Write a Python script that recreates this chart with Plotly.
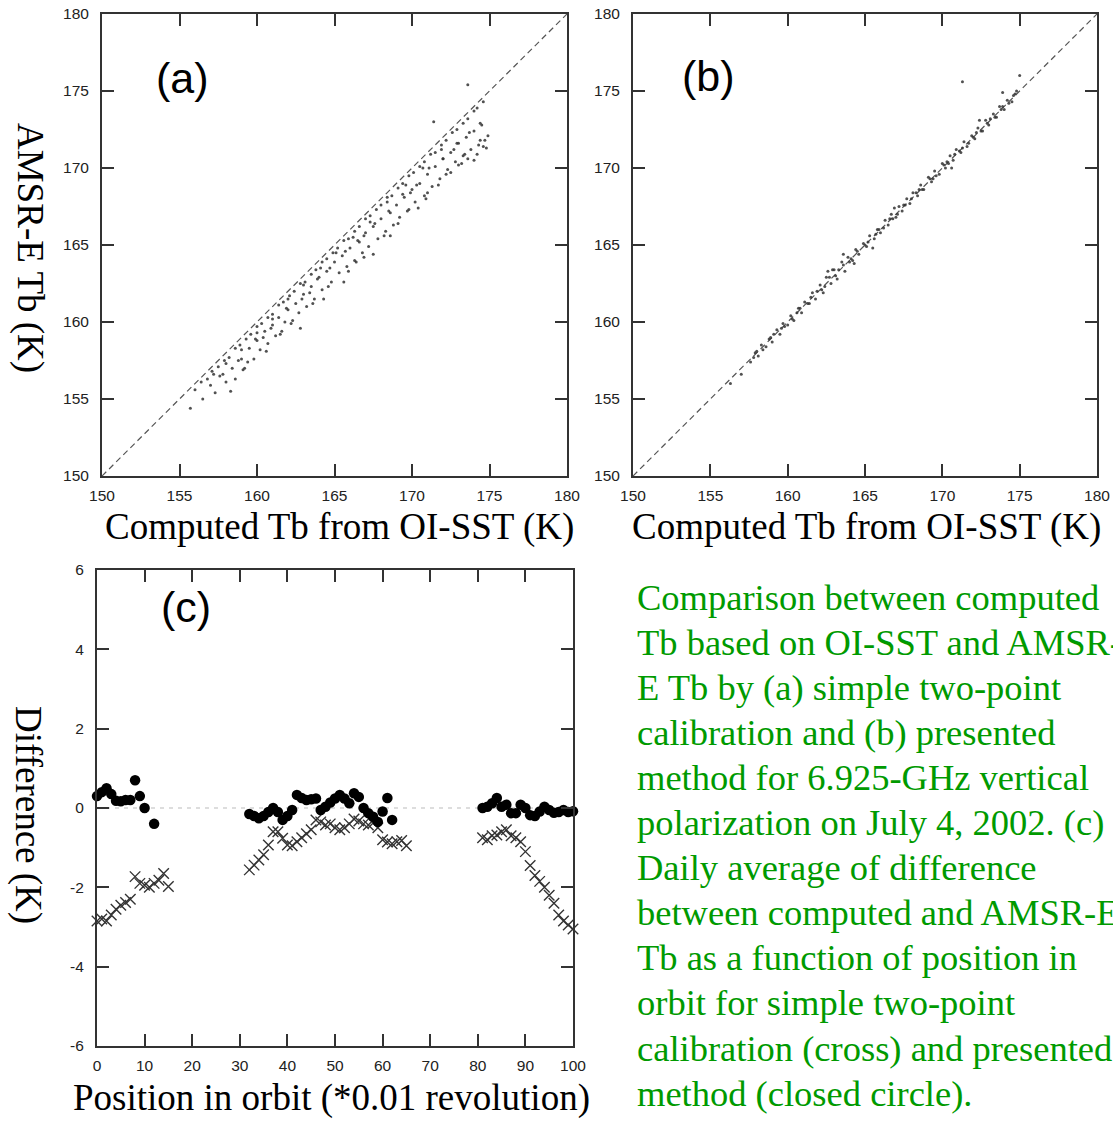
import plotly.graph_objects as go

W, H = 1113, 1121

# ---------------- data ----------------
# panel (a): computed Tb vs AMSR-E Tb, simple two-point calibration
a_x = [156.0,156.8,157.5,158.2,158.9,159.6,160.3,161.0,161.7,162.4,163.1,163.8,164.5,165.2,165.9,166.6,
       167.3,168.0,168.7,169.4,170.1,170.8,171.5,172.2,172.9,173.6,174.2,174.6,
       156.5,157.0,157.3,157.8,158.0,158.4,158.6,159.0,159.2,159.5,159.8,160.0,160.2,160.5,160.7,161.0,
       161.2,161.4,161.8,162.0,162.2,162.5,162.7,163.0,163.2,163.5,163.7,164.0,164.2,164.5,164.8,165.0,
       165.3,165.5,165.8,166.0,166.3,166.5,166.8,167.0,167.2,167.5,167.8,168.0,168.3,168.5,168.8,169.0,
       169.2,169.5,169.8,170.0,170.2,170.5,170.8,171.0,171.3,171.5,171.8,172.0,172.3,172.5,172.8,173.0,
       173.3,173.5,173.8,174.0,174.3,174.5,174.7,174.2,173.6,173.0,172.5,174.8,171.9,170.7,169.6,168.4,
       167.3,166.2,165.1,164.1,163.0,162.0,161.0,160.0,159.0,158.0,157.2,171.4,173.6,155.7,158.3,162.8,
       165.6,168.6,170.4,160.6,164.3,167.5,174.0,174.4,169.1,171.7,166.9,163.6,161.5,159.4,
       156.4,157.1,157.9,158.6,159.3,160.0,160.7,161.4,162.1,162.8,163.5,164.2,164.9,165.6,166.3,167.0,
       167.7,168.4,169.1,169.8,170.5,171.2,171.9,172.6,173.3,174.0,
       157.6,158.8,159.9,160.9,161.9,162.9,163.9,164.7,165.7,166.6,167.6,168.6,169.4,170.3,171.1,172.0,
       172.9,173.7,174.4,160.4,163.4,166.9,169.9,172.7,
       159.1,161.6,164.6,166.4,168.2,169.7,171.0,172.2,173.4,174.6,162.3,165.9,170.9,173.2,174.9]
a_y = [155.6,156.3,157.1,157.7,158.5,159.2,159.9,160.5,161.3,162.0,162.6,163.4,164.1,164.8,165.4,166.2,
       166.9,167.6,168.2,169.0,169.7,170.4,171.0,171.8,172.5,173.2,173.9,174.3,
       155.0,155.9,155.4,156.6,156.1,157.0,156.3,157.6,157.0,158.3,157.6,158.8,158.2,159.4,158.6,159.8,
       159.1,160.3,160.0,160.8,159.9,161.2,160.6,161.8,161.0,162.3,161.5,162.9,162.1,163.3,162.6,163.9,
       163.2,164.3,163.6,164.8,164.0,165.3,164.5,165.8,164.9,166.2,165.4,166.7,165.9,167.2,166.3,167.6,
       166.8,168.1,167.3,168.6,167.8,169.0,168.2,169.6,168.8,170.1,169.3,170.6,169.9,171.0,170.4,171.6,
       170.8,172.0,171.2,172.4,171.5,172.8,171.8,170.9,170.6,170.2,169.7,171.3,171.2,170.0,168.9,167.8,
       166.5,165.5,164.5,163.5,162.4,161.5,160.2,159.3,158.2,157.3,156.6,173.0,175.4,154.4,155.5,159.6,
       162.6,165.6,167.4,158.1,161.5,164.4,170.5,171.8,166.4,168.9,164.2,161.2,159.2,157.4,
       156.1,156.8,157.5,158.3,158.9,159.7,160.3,161.1,161.7,162.5,163.1,163.9,164.5,165.3,165.9,166.7,
       167.3,168.1,168.7,169.5,170.1,170.9,171.5,172.3,172.9,173.7,
       156.5,157.5,158.9,159.6,160.9,161.5,162.8,163.5,164.6,165.2,166.4,167.1,168.3,168.9,170.0,170.6,
       171.6,172.3,172.9,159.0,161.9,165.6,168.4,171.2,
       156.9,159.4,162.3,163.9,165.6,167.2,168.4,169.6,170.9,171.4,160.1,163.3,168.0,170.3,172.1]

# panel (b): computed Tb vs AMSR-E Tb, presented method
b_x = [157.6,157.9,158.1,158.3,158.6,158.8,159.0,159.3,159.5,159.7,160.0,160.2,160.4,160.7,160.9,161.1,
       161.4,161.6,161.8,162.1,162.3,162.5,162.8,163.0,163.2,163.5,163.7,163.9,164.2,164.4,164.6,164.9,
       165.1,165.3,165.6,165.8,166.0,166.3,166.5,166.7,167.0,167.2,167.4,167.7,167.9,168.1,168.4,168.6,
       168.8,169.1,169.3,169.5,169.8,170.0,170.2,170.5,170.7,170.9,171.2,171.4,171.6,171.9,172.1,172.3,
       172.6,172.8,173.0,173.3,173.5,173.7,174.0,174.2,174.5,174.8,
       158.0,158.9,159.8,160.6,161.5,162.4,163.3,164.1,165.0,165.9,166.8,167.6,168.5,169.4,170.3,171.1,
       172.0,172.9,173.8,174.6,
       171.3,175.0,157.0,156.3,162.6,163.6,165.5,170.6,172.4,173.9,
       157.8,158.4,159.1,159.6,160.3,160.8,161.3,161.9,162.2,162.7,163.1,163.6,164.0,164.5,165.2,165.7,
       166.2,166.6,167.1,167.5,168.0,168.3,168.7,169.2,169.6,170.1,170.4,170.8,171.3,171.7,172.2,172.5,
       173.1,173.4,173.9,174.3,174.7,162.9,164.3,166.9]
b_y = [157.4,158.0,157.8,158.5,158.4,158.9,158.7,159.5,159.2,159.9,159.8,160.4,160.1,160.9,160.6,161.3,
       161.2,161.9,161.5,162.4,161.9,162.9,162.5,163.4,162.8,163.9,163.3,164.2,164.0,164.7,164.4,165.1,
       164.9,165.6,165.4,166.0,165.8,166.6,166.3,167.0,166.8,167.5,167.2,168.0,167.7,168.4,168.2,168.9,
       168.6,169.4,169.1,169.8,169.6,170.3,170.0,170.8,170.5,171.2,171.0,171.7,171.4,172.1,171.9,172.6,
       172.4,173.1,172.8,173.5,173.3,174.0,173.8,174.4,174.3,175.0,
       158.1,159.0,159.7,160.6,161.6,162.3,163.4,164.1,165.0,166.0,166.7,167.6,168.6,169.3,170.4,171.1,
       172.0,172.9,173.8,174.7,
       175.6,176.0,156.6,156.0,163.3,164.4,164.8,170.0,173.1,174.9,
       157.7,158.2,159.2,159.6,160.2,160.9,161.2,162.0,162.1,162.9,163.0,163.7,163.9,164.6,165.2,165.7,
       166.1,166.7,167.0,167.6,168.0,168.4,168.6,169.3,169.5,170.2,170.3,170.9,171.3,171.6,172.3,172.4,
       173.2,173.3,174.0,174.2,174.8,163.4,163.8,167.4]

# panel (c): daily average of difference vs position in orbit
circle_pos = [0,1,2,3,4,5,6,7,8,9,10,12,
              32,33,34,35,36,37,38,39,40,41,42,43,44,45,46,47,48,49,50,51,52,53,54,55,56,57,58,59,60,61,62,
              81,82,83,84,85,86,87,88,89,90,91,92,93,94,95,96,97,98,99,100]
circle_diff = [0.30,0.40,0.50,0.35,0.18,0.17,0.20,0.20,0.70,0.30,0.00,-0.40,
               -0.15,-0.20,-0.26,-0.20,-0.10,0.00,-0.10,-0.30,-0.20,-0.05,0.33,0.25,0.20,0.22,0.24,-0.05,
               0.03,0.14,0.24,0.33,0.24,0.12,0.37,0.28,0.00,-0.13,-0.22,-0.35,-0.09,0.25,-0.30,
               0.00,0.03,0.12,0.25,0.03,0.08,-0.13,-0.13,0.08,0.00,-0.18,-0.20,-0.09,0.03,-0.05,-0.12,
               -0.10,-0.05,-0.10,-0.08]
cross_pos = [0,1,2,3,4,5,6,7,8,9,10,11,12,13,14,15,
             32,33,34,35,36,37,38,39,40,41,42,43,44,45,46,47,48,49,50,51,52,53,54,55,56,57,58,59,60,61,62,63,64,65,
             81,82,83,84,85,86,87,88,89,90,91,92,93,94,95,96,97,98,99,100]
cross_diff = [-2.85,-2.80,-2.85,-2.70,-2.55,-2.45,-2.38,-2.30,-1.73,-1.90,-1.95,-2.00,-1.90,-1.82,-1.65,-1.98,
              -1.56,-1.44,-1.31,-1.18,-0.93,-0.60,-0.60,-0.76,-0.93,-0.95,-0.85,-0.75,-0.65,-0.55,-0.30,-0.35,
              -0.43,-0.40,-0.50,-0.55,-0.50,-0.40,-0.28,-0.33,-0.40,-0.43,-0.38,-0.50,-0.80,-0.86,-0.90,-0.85,
              -0.82,-0.95,
              -0.75,-0.80,-0.70,-0.68,-0.60,-0.55,-0.70,-0.75,-0.85,-1.10,-1.45,-1.70,-1.85,-2.00,-2.20,-2.40,
              -2.70,-2.85,-2.95,-3.05]

tb_ticks = [150, 155, 160, 165, 170, 175, 180]
pos_ticks = [0, 10, 20, 30, 40, 50, 60, 70, 80, 90, 100]
diff_ticks = [-6, -4, -2, 0, 2, 4, 6]
diff_ticklabels = ["-6", "-4", "-2", "0", "2", "4", "6"]

caption = [
    "Comparison between computed",
    "Tb based on OI-SST and AMSR-",
    "E Tb by (a) simple two-point",
    "calibration and (b) presented",
    "method for 6.925-GHz vertical",
    "polarization on July 4, 2002. (c)",
    "Daily average of difference",
    "between computed and AMSR-E",
    "Tb as a function of position in",
    "orbit for simple two-point",
    "calibration (cross) and presented",
    "method (closed circle).",
]

# ---------------- figure ----------------
def px_x(p):
    return p / W

def px_y(p):
    return 1 - p / H

fig = go.Figure()

dot = dict(size=3, color="#333333", opacity=0.85)
fig.add_trace(go.Scatter(x=a_x, y=a_y, mode="markers", marker=dot, xaxis="x", yaxis="y", showlegend=False))
fig.add_trace(go.Scatter(x=b_x, y=b_y, mode="markers", marker=dot, xaxis="x2", yaxis="y2", showlegend=False))

fig.add_trace(go.Scatter(x=cross_pos, y=cross_diff, mode="markers", xaxis="x3", yaxis="y3",
                         marker=dict(symbol="x-thin", size=10.5, line=dict(width=1.4, color="#333333")),
                         cliponaxis=False, showlegend=False))
fig.add_trace(go.Scatter(x=circle_pos, y=circle_diff, mode="markers", xaxis="x3", yaxis="y3",
                         marker=dict(symbol="circle", size=10.5, color="black"),
                         cliponaxis=False, showlegend=False))

axis_common = dict(showline=True, linewidth=2, linecolor="#333333", mirror="ticks", ticks="inside",
                   ticklen=12, tickwidth=1.5, tickcolor="#333333", showgrid=False, zeroline=False,
                   automargin=False,
                   tickfont=dict(family="Liberation Sans, Arial", size=15.5, color="#222222"))

dom_a_x = [px_x(102), px_x(567)]
dom_b_x = [px_x(633), px_x(1097)]
dom_ab_y = [px_y(476), px_y(14)]
dom_c_x = [px_x(97), px_x(573)]
dom_c_y = [px_y(1046), px_y(570)]

fig.update_layout(
    template="none",
    width=W, height=H, margin=dict(l=0, r=0, t=0, b=0, autoexpand=False),
    paper_bgcolor="white", plot_bgcolor="white",
    xaxis=dict(domain=dom_a_x, range=[150, 180], tickvals=tb_ticks, anchor="y", ticklabelstandoff=4, **axis_common),
    yaxis=dict(domain=dom_ab_y, range=[150, 180], tickvals=tb_ticks, anchor="x", ticklabelstandoff=8, **axis_common),
    xaxis2=dict(domain=dom_b_x, range=[150, 180], tickvals=tb_ticks, anchor="y2", ticklabelstandoff=4, **axis_common),
    yaxis2=dict(domain=dom_ab_y, range=[150, 180], tickvals=tb_ticks, anchor="x2", ticklabelstandoff=8, **axis_common),
    xaxis3=dict(domain=dom_c_x, range=[0, 100], tickvals=pos_ticks, anchor="y3", ticklabelstandoff=4, **axis_common),
    yaxis3=dict(domain=dom_c_y, range=[-6, 6], tickvals=diff_ticks, ticktext=diff_ticklabels, anchor="x3",
                ticklabelstandoff=8, **axis_common),
)

# 1:1 dashed lines and zero line
shapes = []
for xr, yr in (("x", "y"), ("x2", "y2")):
    shapes.append(dict(type="line", xref=xr, yref=yr, x0=150, y0=150, x1=180, y1=180,
                       line=dict(color="#555555", width=1.2, dash="6px,4px"), layer="below"))
shapes.append(dict(type="line", xref="x3", yref="y3", x0=0, y0=0, x1=100, y1=0,
                   line=dict(color="#bbbbbb", width=1.2, dash="4px,5px"), layer="below"))
fig.update_layout(shapes=shapes)

ann = []
serif = "Liberation Serif, Times New Roman, serif"
sans = "Liberation Sans, Arial, sans-serif"
# panel labels
for txt, xp, yp in (("(a)", 182, 78), ("(b)", 708, 76), ("(c)", 186, 607)):
    ann.append(dict(text=txt, x=px_x(xp), y=px_y(yp), xref="paper", yref="paper", showarrow=False,
                    xanchor="center", yanchor="middle", font=dict(family=sans, size=43, color="black")))
# axis titles
for txt, xp, yp in (("Computed Tb from OI-SST (K)", 339, 527),
                    ("Computed Tb from OI-SST (K)", 866, 527)):
    ann.append(dict(text=txt, x=px_x(xp), y=px_y(yp), xref="paper", yref="paper", showarrow=False,
                    xanchor="center", yanchor="middle", font=dict(family=serif, size=37, color="black")))
ann.append(dict(text="Position in orbit (*0.01 revolution)", x=px_x(331), y=0, xref="paper", yref="paper",
                showarrow=False, xanchor="center", yanchor="bottom",
                font=dict(family=serif, size=37, color="black")))
for txt, xp, yp in (("AMSR-E Tb (K)", 30, 248), ("Difference (K)", 28, 815)):
    ann.append(dict(text=txt, x=px_x(xp), y=px_y(yp), xref="paper", yref="paper", showarrow=False,
                    textangle=90, xanchor="center", yanchor="middle",
                    font=dict(family=serif, size=37, color="black")))
# caption
for i, line in enumerate(caption):
    ann.append(dict(text=line, x=px_x(635), y=px_y(597 + 45.1 * i), xref="paper", yref="paper",
                    showarrow=False, xanchor="left", yanchor="middle",
                    font=dict(family=serif, size=36.5, color="#009a00")))
fig.update_layout(annotations=ann)

fig.write_html("out.html", config={"displayModeBar": False},
               post_script="document.body.style.margin='0px';document.body.style.overflow='hidden';")
